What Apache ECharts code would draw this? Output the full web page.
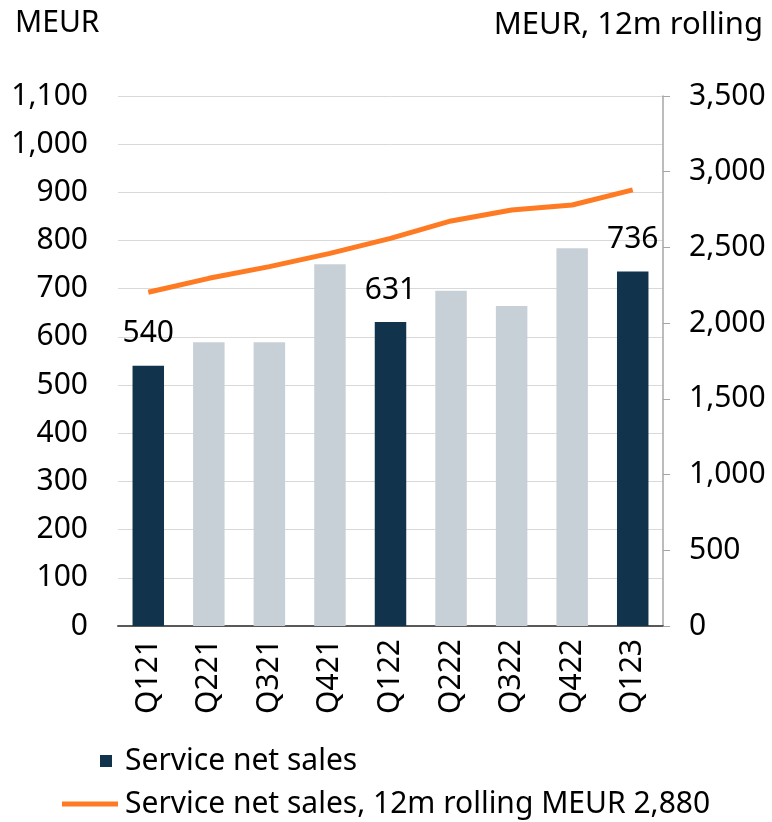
<!DOCTYPE html>
<html>
<head>
<meta charset="utf-8">
<script src="https://cdn.jsdelivr.net/npm/echarts@6/dist/echarts.min.js"></script>
<style>
  html, body { margin: 0; padding: 0; background: #fff; }
  #chart { width: 772px; height: 822px; }
</style>
</head>
<body>
<div id="chart"></div>
<script>
// quarters on the x axis
const quarters = ["Q121", "Q221", "Q321", "Q421", "Q122", "Q222", "Q322", "Q422", "Q123"];
// quarterly service net sales, MEUR (left axis)
const netSales = [540, 589, 589, 751, 631, 696, 664, 784, 736];
// 12 month rolling service net sales, MEUR (right axis)
const rolling12m = [2204, 2296, 2373, 2461, 2560, 2675, 2747, 2780, 2880];
// Q1 bars are drawn dark and labelled
const highlighted = [0, 4, 8];

const font = "Noto Sans";
const fs = 30;
const navy = "#12334c";
const grey = "#c8d0d7";
const orange = "#fe7b24";

const chart = echarts.init(document.getElementById("chart"));

const barData = netSales.map(function (v, i) {
  const hi = highlighted.indexOf(i) >= 0;
  return {
    value: v,
    itemStyle: { color: hi ? navy : grey },
    label: { show: hi }
  };
});

const option = {
  animation: false,
  textStyle: { fontFamily: font },
  title: [
    { text: "MEUR", left: 10, top: 3, textStyle: { fontFamily: font, fontSize: fs, fontWeight: "normal", color: "#000" } },
    { text: "MEUR, 12m rolling", right: 4, top: 5, textStyle: { fontFamily: font, fontSize: fs + 1, fontWeight: "normal", color: "#000" } }
  ],
  grid: { left: 118, right: 109, top: 96, bottom: 196 },
  legend: [
    {
      data: ["Service net sales"],
      left: 95, top: 741,
      itemWidth: 12, itemHeight: 12,
      icon: "rect",
      textStyle: { fontFamily: font, fontSize: fs, color: "#000", padding: [0, 0, 0, 8] }
    },
    {
      data: ["Service net sales, 12m rolling MEUR 2,880"],
      left: 57, top: 784,
      itemWidth: 56, itemHeight: 5,
      icon: "rect",
      textStyle: { fontFamily: font, fontSize: fs, color: "#000", padding: [0, 0, 0, 2] }
    }
  ],
  xAxis: {
    type: "category",
    data: quarters,
    axisLine: { lineStyle: { color: "#595959", width: 2 } },
    axisTick: { show: false },
    axisLabel: { rotate: 90, margin: 13, fontFamily: font, fontSize: fs, color: "#000" }
  },
  yAxis: [
    {
      type: "value",
      min: 0, max: 1100, interval: 100,
      axisLine: { show: false },
      axisTick: { show: false },
      splitLine: { lineStyle: { color: "#d9d9d9", width: 1 } },
      axisLabel: {
        margin: 30, fontFamily: font, fontSize: fs, color: "#000",
        formatter: function (v) { return v.toLocaleString("en-US"); }
      }
    },
    {
      type: "value",
      min: 0, max: 3500, interval: 500,
      position: "right",
      axisLine: { show: true, lineStyle: { color: "#a6a6a6", width: 1.5 } },
      axisTick: { show: true, length: 7, lineStyle: { color: "#a6a6a6" } },
      splitLine: { show: false },
      axisLabel: {
        margin: 26, fontFamily: font, fontSize: fs, color: "#000",
        formatter: function (v) { return v.toLocaleString("en-US"); }
      }
    }
  ],
  series: [
    {
      name: "Service net sales",
      type: "bar",
      yAxisIndex: 0,
      barWidth: "52%",
      itemStyle: { color: navy },
      label: { position: "top", distance: 17, fontFamily: font, fontSize: fs, color: "#000" },
      data: barData
    },
    {
      name: "Service net sales, 12m rolling MEUR 2,880",
      type: "line",
      yAxisIndex: 1,
      symbol: "none",
      itemStyle: { color: orange },
      lineStyle: { color: orange, width: 5 },
      data: rolling12m
    }
  ]
};

chart.setOption(option);
</script>
</body>
</html>
